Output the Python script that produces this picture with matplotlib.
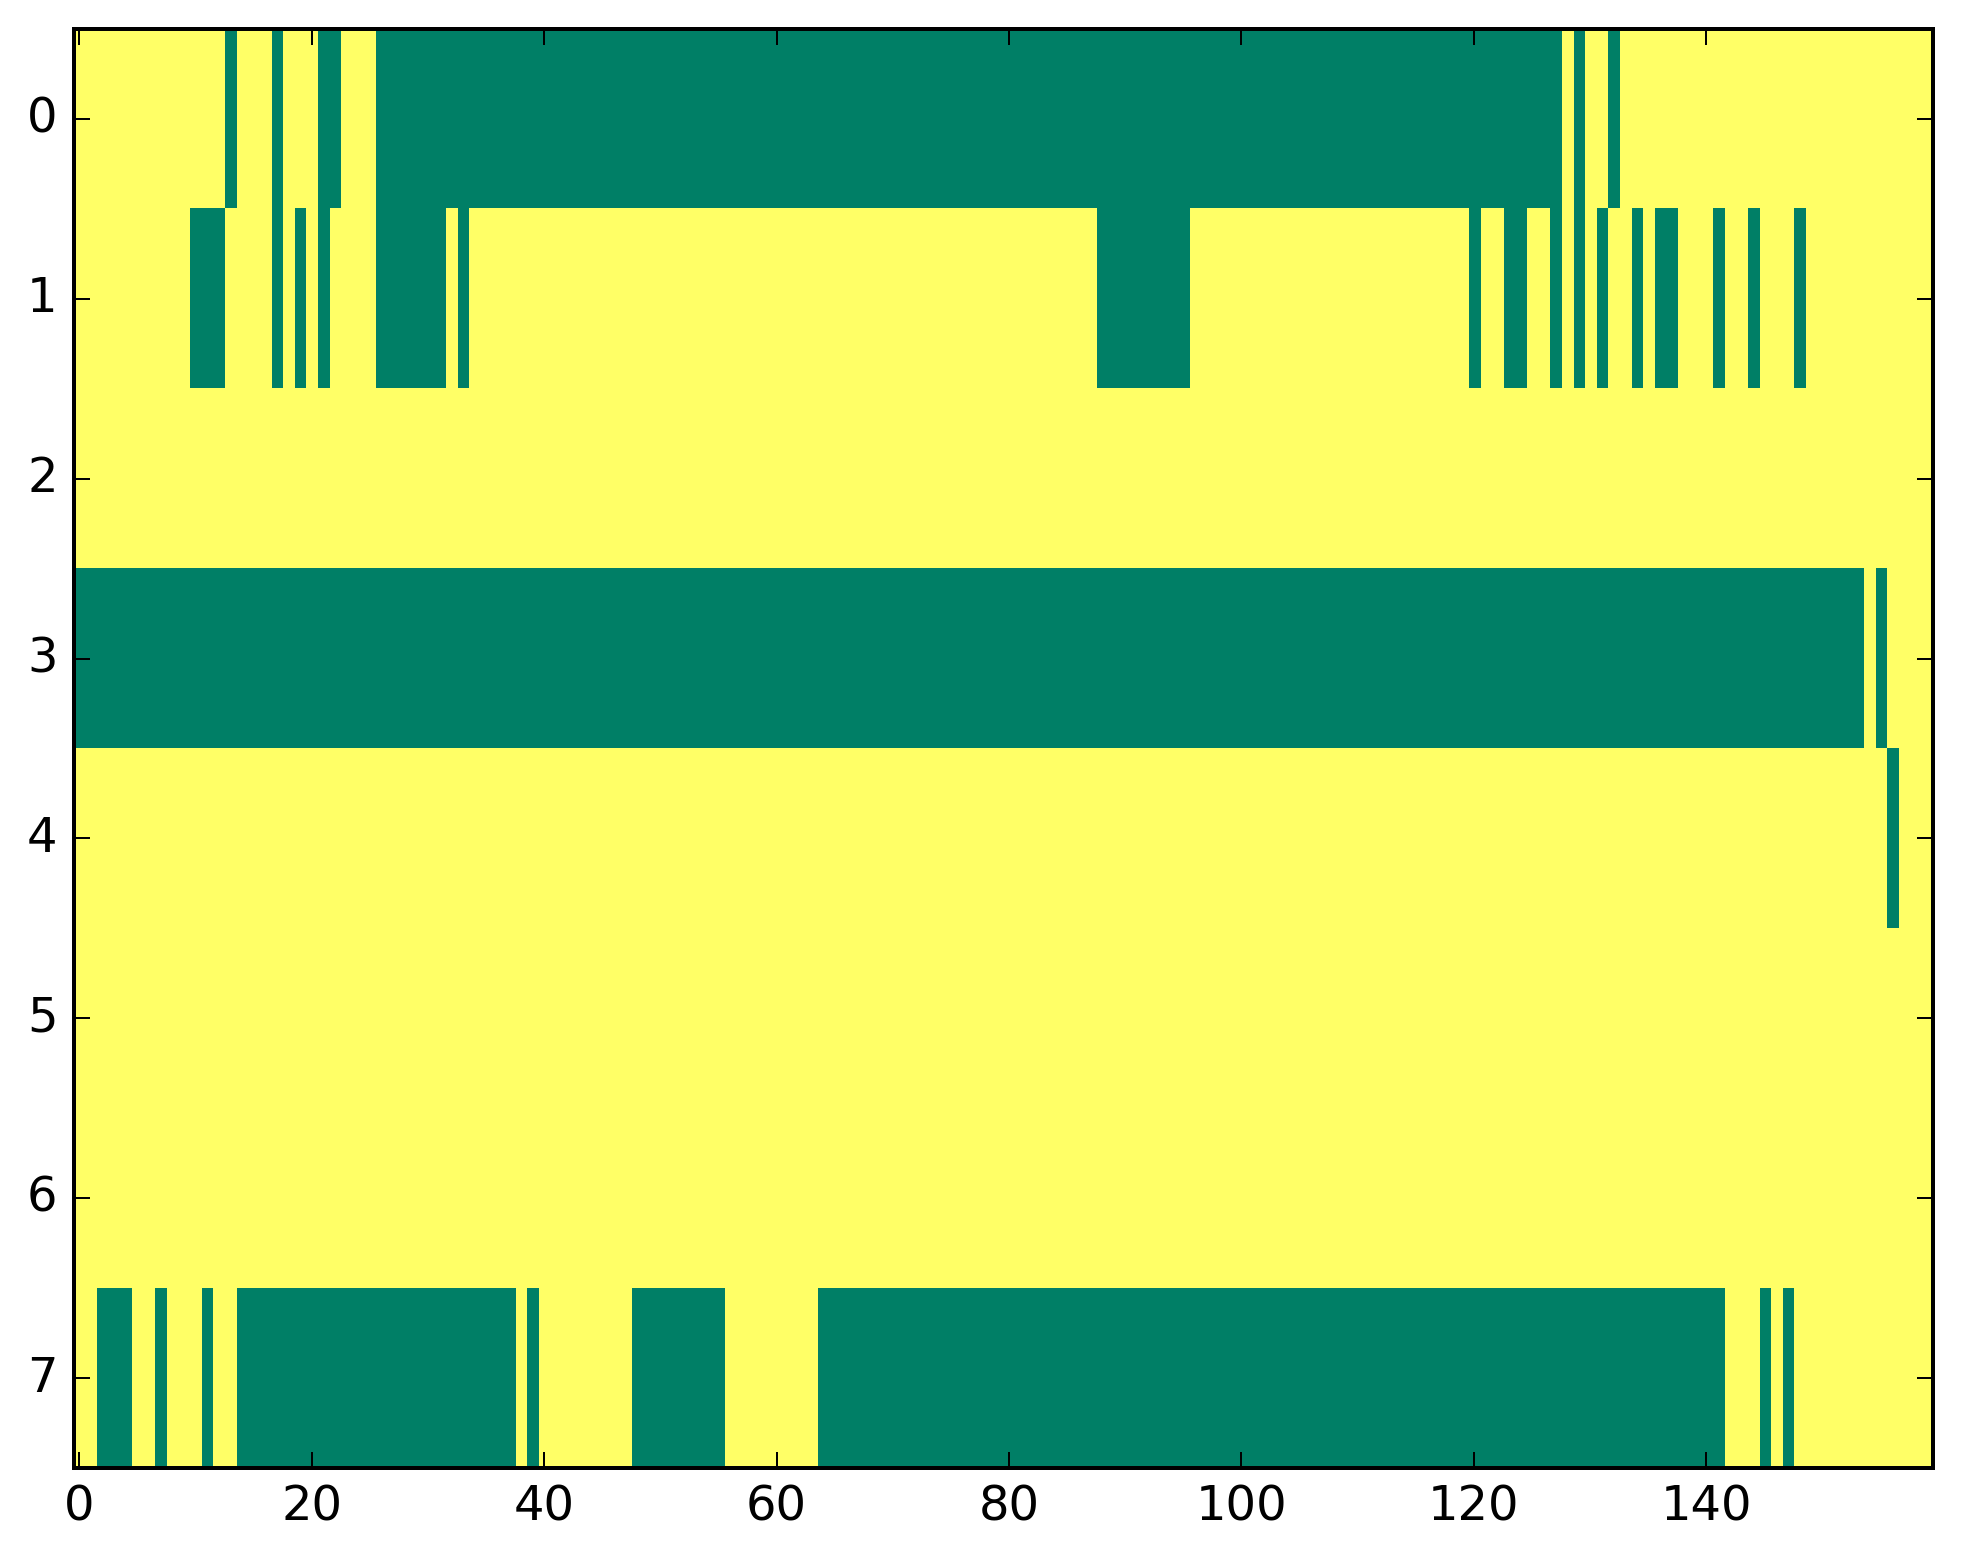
import numpy as np
import matplotlib
matplotlib.use("Agg")
import matplotlib.pyplot as plt

n_rows = 8
n_cols = 160

# Columns with value 0 (green) in each row; all other cells are 1 (yellow)
row0_zero = [13, 17, 21, 22] + list(range(26, 128)) + [129, 132]
row1_zero = [10, 11, 12, 17, 19, 21] + list(range(26, 32)) + [33] + list(range(88, 96)) + \
            [120, 123, 124, 127, 129, 131, 134, 136, 137, 141, 144, 148]
row2_zero = []
row3_zero = list(range(0, 154)) + [155]
row4_zero = [156]
row5_zero = []
row6_zero = []
row7_zero = [2, 3, 4, 7, 11] + list(range(14, 38)) + [39] + list(range(48, 56)) + \
            list(range(64, 142)) + [145, 147]

zero_cols = [row0_zero, row1_zero, row2_zero, row3_zero,
             row4_zero, row5_zero, row6_zero, row7_zero]

data = np.ones((n_rows, n_cols))
for r, cols in enumerate(zero_cols):
    data[r, cols] = 0

plt.style.use('classic')
fig = plt.figure(figsize=(1963 / 288, 1564 / 288), dpi=288)
ax = fig.add_axes([0.0375, 0.0614, 0.9846 - 0.0375, 0.9815 - 0.0614])
ax.imshow(data, cmap='summer', aspect='auto', interpolation='nearest')
ax.set_xticks([0, 20, 40, 60, 80, 100, 120, 140])
ax.set_yticks(range(8))
fig.savefig('out.png', dpi=288)
